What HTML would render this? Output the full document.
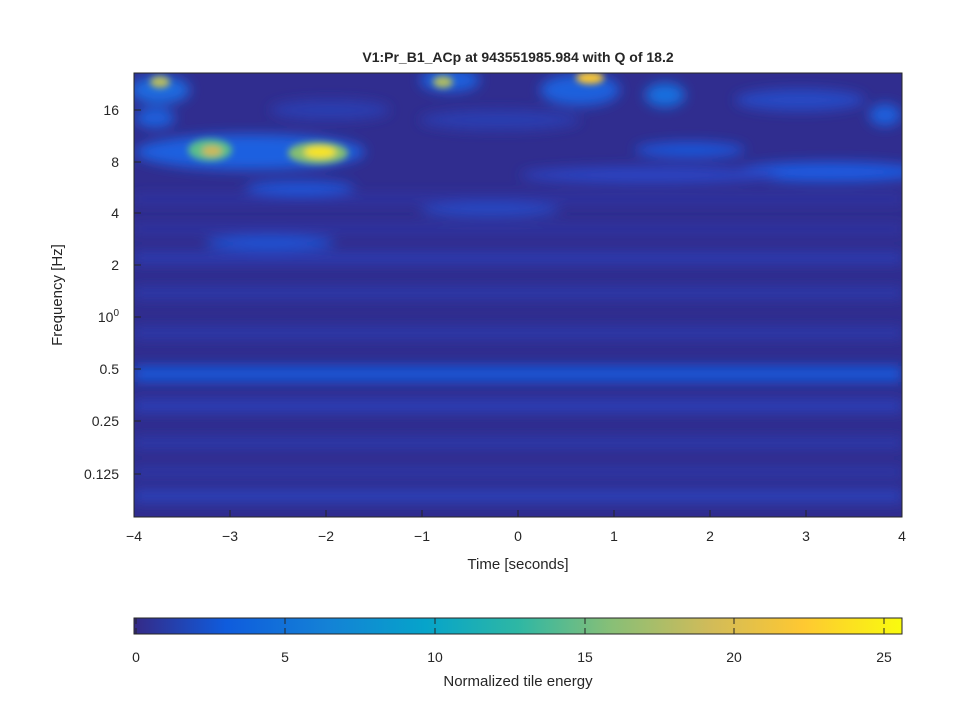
<!DOCTYPE html>
<html><head><meta charset="utf-8"><style>
body{margin:0;background:#fff;}
svg text{font-family:"Liberation Sans",sans-serif;fill:#262626;}
</style></head><body>
<svg width="960" height="720" viewBox="0 0 960 720" xmlns="http://www.w3.org/2000/svg">
<defs>
<clipPath id="c"><rect x="134" y="73" width="768" height="444"/></clipPath>
<filter id="b" x="-50%" y="-50%" width="200%" height="200%"><feGaussianBlur stdDeviation="6"/></filter>
<filter id="b2" x="-50%" y="-50%" width="200%" height="200%"><feGaussianBlur stdDeviation="3.5"/></filter>
<linearGradient id="parula" x1="0" x2="1" y1="0" y2="0">
<stop offset="0" stop-color="#352a87"/><stop offset="0.12" stop-color="#0f5cdd"/>
<stop offset="0.25" stop-color="#1481d6"/><stop offset="0.38" stop-color="#06a4ca"/>
<stop offset="0.5" stop-color="#2eb7a4"/><stop offset="0.62" stop-color="#87bf77"/>
<stop offset="0.75" stop-color="#d1bb59"/><stop offset="0.87" stop-color="#fec832"/>
<stop offset="1" stop-color="#f9fb0e"/></linearGradient>
</defs>
<text x="518" y="62" font-size="14" font-weight="bold" text-anchor="middle">V1:Pr_B1_ACp at 943551985.984 with Q of 18.2</text>
<g clip-path="url(#c)">
<rect x="134" y="73" width="768" height="444" fill="#302d8f"/>
<g filter="url(#b)">
<rect x="134" y="366" width="768" height="16" fill="#1257d8"/>
<rect x="134" y="400" width="768" height="12" fill="#2a40ba"/>
<rect x="134" y="490" width="768" height="12" fill="#2a42bc"/>
<rect x="134" y="328" width="768" height="10" fill="#2c3aae"/>
<rect x="134" y="288" width="768" height="10" fill="#2c3aae"/>
<rect x="134" y="253" width="768" height="10" fill="#2a3eb6"/>
<rect x="134" y="438" width="768" height="10" fill="#2c3aae"/>
<rect x="134" y="468" width="768" height="8" fill="#2c3aae"/>
<rect x="134" y="225" width="768" height="8" fill="#2e36a6"/>
<rect x="134" y="195" width="768" height="8" fill="#2e36a6"/>
<ellipse cx="830" cy="172" rx="95" ry="10" fill="#1a5ae0"/>
<ellipse cx="650" cy="175" rx="130" ry="8" fill="#2a44c4"/>
<ellipse cx="270" cy="243" rx="65" ry="7" fill="#1a55d8"/>
<ellipse cx="300" cy="188" rx="55" ry="7" fill="#1a55d8"/>
<ellipse cx="490" cy="210" rx="70" ry="7" fill="#2648c4"/>
<ellipse cx="690" cy="150" rx="55" ry="8" fill="#1a55d8"/>
<ellipse cx="160" cy="90" rx="30" ry="14" fill="#1a6ae0"/>
<ellipse cx="155" cy="118" rx="20" ry="10" fill="#1a60dd"/>
<ellipse cx="580" cy="90" rx="40" ry="16" fill="#1a60dd"/>
<ellipse cx="665" cy="95" rx="20" ry="12" fill="#1570e0"/>
<ellipse cx="800" cy="100" rx="65" ry="11" fill="#2848c4"/>
<ellipse cx="885" cy="115" rx="16" ry="11" fill="#1a60dd"/>
<ellipse cx="450" cy="80" rx="30" ry="12" fill="#1a60dd"/>
<ellipse cx="250" cy="152" rx="115" ry="18" fill="#1a60e0"/>
<ellipse cx="500" cy="120" rx="80" ry="10" fill="#2c3cb0"/>
<ellipse cx="330" cy="110" rx="60" ry="10" fill="#2c3cb0"/>
</g>
<g filter="url(#b2)">
<ellipse cx="210" cy="150" rx="22" ry="11" fill="#5cbf8a"/>
<ellipse cx="212" cy="151" rx="10" ry="5" fill="#d2b856"/>
<ellipse cx="318" cy="153" rx="30" ry="11" fill="#86c070"/>
<ellipse cx="320" cy="152" rx="16" ry="6" fill="#f9e420"/>
<ellipse cx="160" cy="82" rx="10" ry="6" fill="#b8bd60"/>
<ellipse cx="443" cy="82" rx="10" ry="6" fill="#b0bd62"/>
<ellipse cx="590" cy="78" rx="14" ry="6" fill="#fbc834"/>
</g>
</g>
<rect x="134" y="73" width="768" height="444" fill="none" stroke="#262626" stroke-width="1"/>
<g stroke="#262626" stroke-width="1">
<line x1="134" y1="517" x2="134" y2="510"/><line x1="230" y1="517" x2="230" y2="510"/>
<line x1="326" y1="517" x2="326" y2="510"/><line x1="422" y1="517" x2="422" y2="510"/>
<line x1="518" y1="517" x2="518" y2="510"/><line x1="614" y1="517" x2="614" y2="510"/>
<line x1="710" y1="517" x2="710" y2="510"/><line x1="806" y1="517" x2="806" y2="510"/>
<line x1="902" y1="517" x2="902" y2="510"/>
<line x1="134" y1="110" x2="141" y2="110"/><line x1="134" y1="162" x2="141" y2="162"/>
<line x1="134" y1="213" x2="141" y2="213"/><line x1="134" y1="265" x2="141" y2="265"/>
<line x1="134" y1="317" x2="141" y2="317"/><line x1="134" y1="369" x2="141" y2="369"/>
<line x1="134" y1="421" x2="141" y2="421"/><line x1="134" y1="474" x2="141" y2="474"/>
</g>
<g font-size="14" text-anchor="middle">
<text x="134" y="541">−4</text><text x="230" y="541">−3</text><text x="326" y="541">−2</text>
<text x="422" y="541">−1</text><text x="518" y="541">0</text><text x="614" y="541">1</text>
<text x="710" y="541">2</text><text x="806" y="541">3</text><text x="902" y="541">4</text>
</g>
<g font-size="14" text-anchor="end">
<text x="119" y="115">16</text><text x="119" y="167">8</text><text x="119" y="218">4</text>
<text x="119" y="270">2</text><text x="119" y="322">10<tspan font-size="10" dy="-6">0</tspan></text>
<text x="119" y="374">0.5</text><text x="119" y="426">0.25</text><text x="119" y="479">0.125</text>
</g>
<text x="518" y="569" font-size="15" text-anchor="middle">Time [seconds]</text>
<text transform="translate(62,295) rotate(-90)" font-size="15" text-anchor="middle">Frequency [Hz]</text>
<rect x="134" y="618" width="768" height="16" fill="url(#parula)" stroke="#262626" stroke-width="1"/>
<g stroke="#262626"><line x1="136" y1="634" x2="136" y2="628"/><line x1="285" y1="634" x2="285" y2="628"/>
<line x1="435" y1="634" x2="435" y2="628"/><line x1="585" y1="634" x2="585" y2="628"/>
<line x1="734" y1="634" x2="734" y2="628"/><line x1="884" y1="634" x2="884" y2="628"/>
<line x1="136" y1="618" x2="136" y2="624"/><line x1="285" y1="618" x2="285" y2="624"/>
<line x1="435" y1="618" x2="435" y2="624"/><line x1="585" y1="618" x2="585" y2="624"/>
<line x1="734" y1="618" x2="734" y2="624"/><line x1="884" y1="618" x2="884" y2="624"/></g>
<g font-size="14" text-anchor="middle">
<text x="136" y="662">0</text><text x="285" y="662">5</text><text x="435" y="662">10</text>
<text x="585" y="662">15</text><text x="734" y="662">20</text><text x="884" y="662">25</text>
</g>
<text x="518" y="686" font-size="15" text-anchor="middle">Normalized tile energy</text>
</svg>
</body></html>
